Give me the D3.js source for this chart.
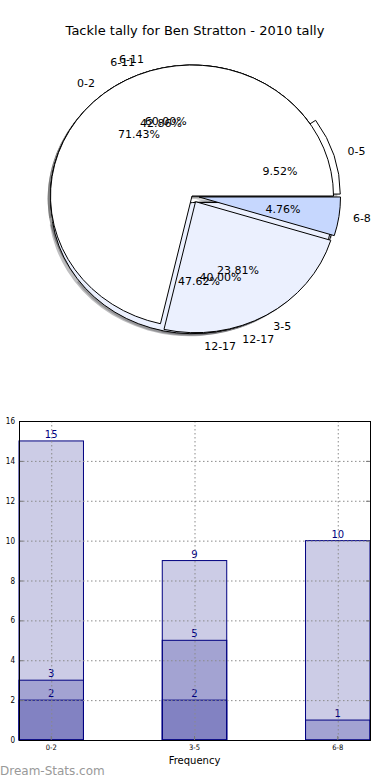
<!DOCTYPE html>
<html>
<head>
<meta charset="utf-8">
<script src="https://cdn.jsdelivr.net/npm/d3@7"></script>
<style>
  body { margin: 0; background: #fff; }
  text { font-family: "DejaVu Sans", sans-serif; }
</style>
</head>
<body>
<svg></svg>
<script>
// pie layers (three pies drawn over each other)
const pie1Labels = ['0-2', '3-5', '6-8'];
const pie1Values = [15, 5, 1];
const pie2Labels = ['0-5', '6-11', '12-17'];
const pie2Values = [2, 9, 10];
const pie3Labels = ['6-11', '12-17'];
const pie3Values = [3, 2];

// bar chart
const categories = ['0-2', '3-5', '6-8'];
const barSeries1 = [15, 9, 10];
const barSeries2 = [3, 5, 1];
const barSeries3 = [2, 2, null];
const yTicks = [0, 2, 4, 6, 8, 10, 12, 14, 16];

let width = 390, height = 780;
let svg = d3.select('svg').attr('width', width).attr('height', height);

svg.append('text')
    .attr('x', 195).attr('y', 35)
    .attr('text-anchor', 'middle')
    .style('font-size', '13px')
    .text('Tackle tally for Ben Stratton - 2010 tally');

// ---- pie ----
let cx = 192, cy = 196, rx = 141.5, ry = 131;

let layers = [
    { labels: pie1Labels, values: pie1Values, explode: [0, 0.05, 0.05], colors: ['#ffffff', '#ebf0fe', '#c6d7fe'] },
    { labels: pie2Labels, values: pie2Values, explode: [0.05, 0, 0.05], colors: ['#ffffff', '#ffffff', '#ebf0fe'] },
    { labels: pie3Labels, values: pie3Values, explode: [0, 0.05], colors: ['#ffffff', '#ebf0fe'] }
];

// counterclockwise from 3 o'clock, like matplotlib
let pie = d3.pie().sort(null).startAngle(Math.PI / 2).endAngle(Math.PI / 2 - 2 * Math.PI);
let arc = d3.arc().innerRadius(0).outerRadius(1);

layers.forEach(layer => {
    let total = d3.sum(layer.values);
    layer.slices = pie(layer.values).map((d, i) => {
        let mid = (d.startAngle + d.endAngle) / 2;
        let e = layer.explode[i];
        return {
            arc: d,
            mid: mid,
            ox: cx + rx * e * Math.sin(mid),
            oy: cy - ry * e * Math.cos(mid),
            color: layer.colors[i],
            label: layer.labels[i],
            pct: (100 * layer.values[i] / total).toFixed(2) + '%'
        };
    });
});

let pieGroup = svg.append('g');
let allSlices = layers.flatMap(l => l.slices);

// shadows under everything
pieGroup.selectAll('path.shadow')
    .data(allSlices)
    .enter()
    .append('path')
    .attr('transform', d => `translate(${d.ox - 0.02 * rx}, ${d.oy + 0.02 * ry}) scale(${rx}, ${ry})`)
    .attr('d', d => arc(d.arc))
    .style('fill', d => {
        let c = d3.rgb(d.color);
        return d3.rgb(c.r * 0.3, c.g * 0.3, c.b * 0.3);
    })
    .style('fill-opacity', 0.35)
    .style('stroke', 'none');

// wedges, last pie drawn first so pie 1 ends on top
layers.slice().reverse().forEach(layer => {
    pieGroup.append('g').selectAll('path')
        .data(layer.slices)
        .enter()
        .append('path')
        .attr('transform', d => `translate(${d.ox}, ${d.oy}) scale(${rx}, ${ry})`)
        .attr('d', d => arc(d.arc))
        .attr('vector-effect', 'non-scaling-stroke')
        .style('fill', d => d.color)
        .style('stroke', '#000')
        .style('stroke-width', 1);
});

// labels on top
layers.slice().reverse().forEach(layer => {
    let g = pieGroup.append('g');
    g.selectAll('text.lbl')
        .data(layer.slices)
        .enter()
        .append('text')
        .attr('x', d => d.ox + 1.1 * rx * Math.sin(d.mid))
        .attr('y', d => d.oy - 1.1 * ry * Math.cos(d.mid))
        .attr('dy', '0.35em')
        .attr('text-anchor', d => Math.sin(d.mid) > 0 ? 'start' : 'end')
        .style('font-size', '11px')
        .text(d => d.label);
    g.selectAll('text.pct')
        .data(layer.slices)
        .enter()
        .append('text')
        .attr('x', d => d.ox + 0.6 * rx * Math.sin(d.mid))
        .attr('y', d => d.oy - 0.6 * ry * Math.cos(d.mid))
        .attr('dy', '0.35em')
        .attr('text-anchor', 'middle')
        .style('font-size', '11px')
        .text(d => d.pct);
});

// ---- bars ----
let plotLeft = 19, plotRight = 370, plotTop = 421, plotBottom = 740;

let x = d3.scaleBand()
    .domain(categories)
    .range([plotLeft, plotRight])
    .paddingInner(0.55)
    .paddingOuter(0);

let y = d3.scaleLinear()
    .domain([0, 16])
    .range([plotBottom, plotTop]);

let barGroup = svg.append('g');

[barSeries1, barSeries2, barSeries3].forEach(series => {
    let rows = categories.map((c, i) => ({ cat: c, value: series[i] })).filter(d => d.value != null);
    barGroup.append('g').selectAll('rect')
        .data(rows)
        .enter()
        .append('rect')
        .attr('x', d => x(d.cat))
        .attr('y', d => y(d.value))
        .attr('width', x.bandwidth())
        .attr('height', d => y(0) - y(d.value))
        .style('fill', 'navy')
        .style('fill-opacity', 0.2)
        .style('stroke', 'navy')
        .style('stroke-width', 1);
});

// grid over the bars
let grid = svg.append('g')
    .style('stroke', '#8a8a8a')
    .style('stroke-width', 1)
    .style('stroke-dasharray', '1.5,2.5');

grid.selectAll('line.h')
    .data(yTicks.slice(1, -1))
    .enter()
    .append('line')
    .attr('x1', plotLeft).attr('x2', plotRight)
    .attr('y1', d => y(d) + 0.5).attr('y2', d => y(d) + 0.5);

grid.selectAll('line.v')
    .data(categories)
    .enter()
    .append('line')
    .attr('x1', d => x(d) + x.bandwidth() / 2 + 0.5)
    .attr('x2', d => x(d) + x.bandwidth() / 2 + 0.5)
    .attr('y1', plotTop).attr('y2', plotBottom);

// value labels
[barSeries1, barSeries2, barSeries3].forEach(series => {
    let rows = categories.map((c, i) => ({ cat: c, value: series[i] })).filter(d => d.value != null);
    barGroup.append('g').selectAll('text')
        .data(rows)
        .enter()
        .append('text')
        .attr('x', d => x(d.cat) + x.bandwidth() / 2)
        .attr('y', d => y(d.value) - 3)
        .attr('text-anchor', 'middle')
        .style('font-size', '10px')
        .style('fill', 'navy')
        .text(d => d.value);
});

// axes
let yAxis = svg.append('g')
    .attr('transform', `translate(${plotLeft}, 0)`)
    .call(d3.axisLeft(y).tickValues(yTicks).tickSizeInner(-4).tickSizeOuter(0).tickPadding(4));
yAxis.select('.domain').remove();
yAxis.selectAll('line').style('stroke', '#777');
yAxis.selectAll('text').style('font-size', '8px').style('font-family', '"DejaVu Sans Condensed", "DejaVu Sans"');

let yAxisR = svg.append('g')
    .attr('transform', `translate(${plotRight}, 0)`)
    .call(d3.axisRight(y).tickValues(yTicks).tickSizeInner(-4).tickSizeOuter(0).tickFormat(''));
yAxisR.select('.domain').remove();
yAxisR.selectAll('line').style('stroke', '#777');

let xAxis = svg.append('g')
    .attr('transform', `translate(0, ${plotBottom})`)
    .call(d3.axisBottom(x).tickSizeInner(-4).tickSizeOuter(0).tickPadding(5));
xAxis.select('.domain').remove();
xAxis.selectAll('line').style('stroke', '#777');
xAxis.selectAll('text').style('font-size', '7.5px').style('font-family', '"DejaVu Sans Condensed", "DejaVu Sans"');

svg.append('rect')
    .attr('x', plotLeft + 0.5).attr('y', plotTop + 0.5)
    .attr('width', plotRight - plotLeft).attr('height', plotBottom - plotTop)
    .style('fill', 'none')
    .style('stroke', '#000')
    .style('stroke-width', 1);

svg.append('text')
    .attr('x', (plotLeft + plotRight) / 2).attr('y', 764)
    .attr('text-anchor', 'middle')
    .style('font-size', '10px')
    .text('Frequency');

svg.append('text')
    .attr('x', 0).attr('y', 775)
    .style('font-size', '12px')
    .style('fill', '#999')
    .text('Dream-Stats.com');
</script>
</body>
</html>
